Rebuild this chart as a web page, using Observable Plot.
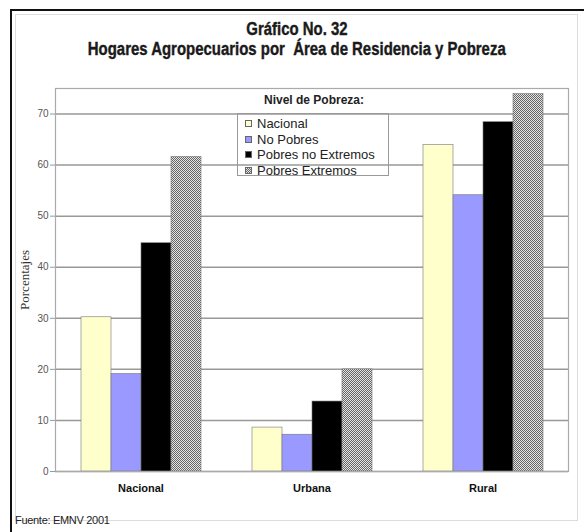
<!DOCTYPE html>
<html><head><meta charset="utf-8">
<script src="https://cdn.jsdelivr.net/npm/d3@7"></script>
<script src="https://cdn.jsdelivr.net/npm/@observablehq/plot@0.6"></script>
<style>
body{margin:0;background:#fff;}
#wrap{position:relative;width:584px;height:532px;overflow:hidden;font-family:"Liberation Sans",Arial,sans-serif;}
.outer{position:absolute;left:10px;top:9px;width:580px;height:530px;border-left:2px solid #111;border-top:2px solid #111;}
.inner{position:absolute;left:15px;top:14px;width:561px;height:505px;border:1px solid #ddd;}
#chart{position:absolute;left:0;top:0;}
.t{position:absolute;left:0;width:594px;text-align:center;}
.t span{display:inline-block;font-family:"Liberation Sans",Arial,sans-serif;font-weight:900;font-size:18px;color:#1a1a1a;transform:scaleX(0.83);transform-origin:50% 50%;white-space:nowrap;-webkit-text-stroke:0.4px #1a1a1a;}
#legtitle{position:absolute;left:237px;top:93px;width:154px;text-align:center;font-weight:bold;font-size:12px;color:#222;}
#legend{position:absolute;left:237px;top:113px;width:152px;height:63px;border:1px solid #999;box-sizing:border-box;padding-top:2px;}
.item{height:15.5px;line-height:15.5px;font-size:13px;color:#222;display:flex;align-items:center;white-space:nowrap;}
.sw{width:7px;height:7px;margin-left:7px;margin-right:5px;border:0.5px solid #666;box-sizing:border-box;flex:none;}
#src{position:absolute;left:15px;top:514px;font-size:11px;color:#222;letter-spacing:-0.3px;}
</style></head><body>
<div id="wrap">
  <div class="outer"></div>
  <div class="inner"></div>
  <div id="chart"></div>
  <div class="t" style="top:19px"><span>Gráfico No. 32</span></div>
  <div class="t" style="top:39px"><span>Hogares Agropecuarios por&nbsp; Área de Residencia y Pobreza</span></div>
  <div id="legtitle">Nivel de Pobreza:</div>
  <div id="legend"></div>
  <div id="src">Fuente: EMNV 2001</div>
</div>
<script>
const areas = ["Nacional", "Urbana", "Rural"];
const series = ["Nacional", "No Pobres", "Pobres no Extremos", "Pobres Extremos"];
const valNacional = [30.2, 19.1, 44.7, 61.6];
const valUrbana = [8.6, 7.2, 13.7, 20.0];
const valRural = [63.9, 54.1, 68.4, 73.9];
const colors = ["#FFFFCC", "#9999FF", "#000000", "url(#chk)"];
const yTicks = [0, 10, 20, 30, 40, 50, 60, 70];

const byArea = [valNacional, valUrbana, valRural];
const data = areas.flatMap((a, i) => series.map((s, j) => ({area: a, series: s, value: byArea[i][j]})));

const svg = Plot.plot({
  width: 584, height: 532,
  marginLeft: 55, marginRight: 16, marginTop: 88, marginBottom: 61,
  style: {background: "transparent", fontFamily: "Liberation Sans, Arial, sans-serif", color: "#333"},
  fx: {domain: areas, padding: 0, label: null},
  x: {domain: series, paddingInner: 0, paddingOuter: 0.76, axis: null},
  y: {domain: [0, 75], ticks: yTicks, label: null},
  color: {domain: series, range: colors},
  marks: [
    Plot.ruleY(yTicks, {stroke: "#999", strokeWidth: 1.5}),
    Plot.barY(data, {fx: "area", x: "series", y: "value", fill: "series", stroke: "#777", strokeWidth: 0.6}),
    Plot.frame({facet: "super", stroke: "#aaa", strokeWidth: 1.2}),
    Plot.axisY({ticks: yTicks, tickSize: 5, tickPadding: 2, fontSize: 10, stroke: "#999", fill: "#555",
      label: "Porcentajes", labelAnchor: "center", labelOffset: 36, labelArrow: "none"}),
    Plot.axisFx({anchor: "bottom", tickSize: 0, tickPadding: 13, fontSize: 11, fontWeight: "bold",
      fill: "#111", label: null})
  ]
});
const defs = d3.create("svg:defs");
const pat = defs.append("pattern").attr("id", "chk").attr("width", 2).attr("height", 2).attr("patternUnits", "userSpaceOnUse");
pat.append("rect").attr("width", 2).attr("height", 2).attr("fill", "#e4e4e4");
pat.append("rect").attr("width", 1).attr("height", 1).attr("fill", "#666");
pat.append("rect").attr("x", 1).attr("y", 1).attr("width", 1).attr("height", 1).attr("fill", "#666");
svg.insertBefore(defs.node(), svg.firstChild);
d3.select(svg).selectAll("[aria-label='y-axis label'] text, [aria-label='y-axis label']")
  .attr("font-family", "Liberation Serif, serif").attr("font-size", 13).attr("fill", "#333");
document.getElementById("chart").appendChild(svg);

const leg = d3.select("#legend");
series.forEach((s, i) => {
  const it = leg.append("div").attr("class", "item");
  if (colors[i].startsWith("url")) {
    it.append("div").attr("class", "sw")
      .style("background", "repeating-conic-gradient(#666 0% 25%, #e4e4e4 0% 50%) 0 0/2px 2px");
  } else {
    it.append("div").attr("class", "sw").style("background", colors[i]);
  }
  it.append("span").text(s);
});
</script>
</body></html>
